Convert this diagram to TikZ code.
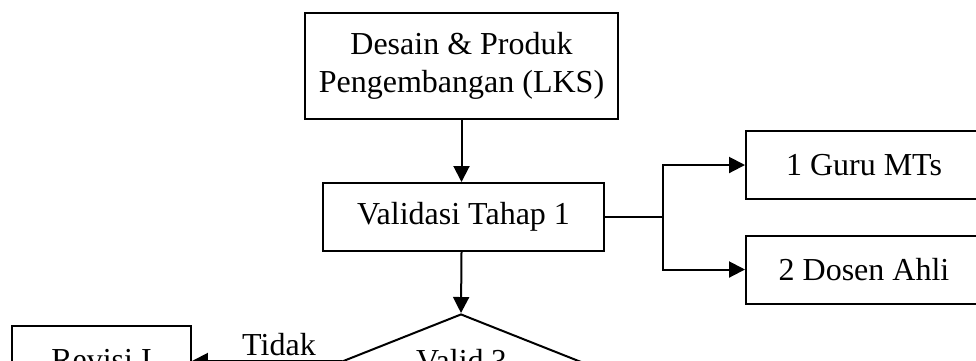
\documentclass[tikz,border=0pt]{standalone}
\usepackage{fontspec}
\setmainfont{Liberation Serif}
\usetikzlibrary{arrows.meta, shapes.geometric}

\begin{document}
\begin{tikzpicture}[x=0.375pt, y=-0.375pt, font=\fontsize{12}{14}\selectfont,
		kotak/.style={draw, line width=0.75pt, align=center, inner sep=0pt},
		keputusan/.style={draw, line width=0.75pt, diamond, aspect=2.5, inner sep=0pt,
			minimum width=88.5pt, minimum height=35.25pt},
		garis/.style={line width=0.75pt},
		panah/.style={line width=0.75pt, -{Triangle[length=6pt, width=6pt]}}]
		\useasboundingbox (0, 0) rectangle (976, 360);
		\clip (0, 0) rectangle (976, 360);
		\node[kotak, minimum width=117.4pt, minimum height=39.75pt] (desain) at (461.5, 66)
			{Desain \& Produk\\Pengembangan (LKS)};
		\node[kotak, minimum width=105.4pt, minimum height=25.5pt] (validasi) at (463.5, 217)
			{Validasi Tahap 1};
		\node[kotak, minimum width=88.5pt, minimum height=25.5pt] (guru) at (864, 165)
			{1 Guru MTs};
		\node[kotak, minimum width=88.5pt, minimum height=25.5pt] (dosen) at (864, 269.5)
			{2 Dosen Ahli};
		\node[keputusan] (valid) at (461, 361) {Valid ?};
		\node[kotak, minimum width=67.1pt, minimum height=25.5pt] (revisi) at (101.5, 360)
			{Revisi I};
		\coordinate (cabang) at (663, 217);
		\draw[panah] (desain.south) -- (desain.south |- validasi.north);
		\draw[panah] (desain.south |- validasi.south) -- (valid.north);
		\draw[garis] (validasi.east) -- (cabang);
		\draw[panah] (cabang) |- (guru.west);
		\draw[panah] (cabang) |- (dosen.west);
		\draw[panah] (valid.west) -- (revisi.east |- valid.west)
			node[above, pos=0.42, inner sep=1.5pt]{Tidak};
\end{tikzpicture}
\end{document}
